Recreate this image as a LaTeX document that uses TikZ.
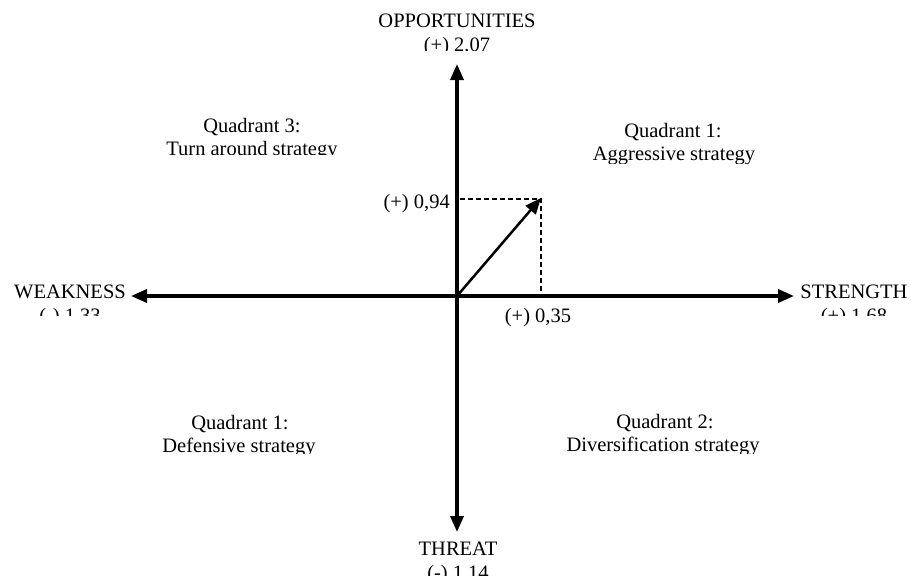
\documentclass[tikz,border=0pt]{standalone}
\usepackage{fontspec}
\setmainfont{Liberation Serif}
\usetikzlibrary{arrows.meta}
\begin{document}
\begin{tikzpicture}[x=1pt,y=-1pt,
  axis/.style={line width=3.5pt,{Triangle[length=16pt,width=13pt]}-{Triangle[length=16pt,width=13pt]}},
  vector/.style={line width=2.5pt,-{Triangle[length=16pt,width=13pt]}},
  guide/.style={line width=1.2pt,dash pattern=on 5pt off 3pt},
  lbl/.style={font=\fontsize{20.5}{24}\selectfont,inner sep=0pt,anchor=base}]
\useasboundingbox (0,0) rectangle (911,576);

% axes
\coordinate (O) at (457,296);
\coordinate (N) at (457,64);
\coordinate (S) at (457,532);
\coordinate (W) at (131,296);
\coordinate (E) at (794,296);
\draw[axis] (S) -- (N);
\draw[axis] (W) -- (E);

% resulting position vector and its projections
\coordinate (P) at (541,198);
\coordinate (Px) at (541,296);
\coordinate (Py) at (460,199);
\draw[guide] (Py) -- (P |- Py) -- (Px);
\draw[vector] (O) -- (P);
\node[lbl,anchor=base east] (vy) at (450,208) {(+) 0,94};
\node[lbl] (vx) at (538,322) {(+) 0,35};

% axis labels (text boxes cut off below the first line)
\node[lbl] (opp) at (457,27) {OPPORTUNITIES};
\begin{scope}\clip (380,30) rectangle (540,50);
  \node[lbl] (oppv) at (457,51) {(+) 2,07};
\end{scope}
\node[lbl] (weak) at (70,298) {WEAKNESS};
\begin{scope}\clip (10,300) rectangle (130,315);
  \node[lbl] (weakv) at (70,322) {(-) 1,33};
\end{scope}
\node[lbl] (str) at (854,298) {STRENGTH};
\begin{scope}\clip (795,300) rectangle (911,315);
  \node[lbl] (strv) at (854,322) {(+) 1,68};
\end{scope}
\node[lbl] (thr) at (458,555) {THREAT};
\begin{scope}\clip (400,558) rectangle (520,575);
  \node[lbl] (thrv) at (458,579) {(-) 1,14};
\end{scope}

% quadrant captions
\node[lbl] (q3) at (252,132) {Quadrant 3:};
\begin{scope}\clip (140,135) rectangle (370,154);
  \node[lbl] (q3s) at (252,155.5) {Turn around strategy};
\end{scope}
\node[lbl] (q1) at (673,137) {Quadrant 1:};
\begin{scope}\clip (560,140) rectangle (790,163);
  \node[lbl] (q1s) at (674,160.5) {Aggressive strategy};
\end{scope}
\node[lbl] (q4) at (240,429) {Quadrant 1:};
\begin{scope}\clip (130,432) rectangle (350,453);
  \node[lbl] (q4s) at (239,452.5) {Defensive strategy};
\end{scope}
\node[lbl] (q2) at (665,428) {Quadrant 2:};
\begin{scope}\clip (540,431) rectangle (790,453);
  \node[lbl] (q2s) at (663,451.5) {Diversification strategy};
\end{scope}
\end{tikzpicture}
\end{document}
